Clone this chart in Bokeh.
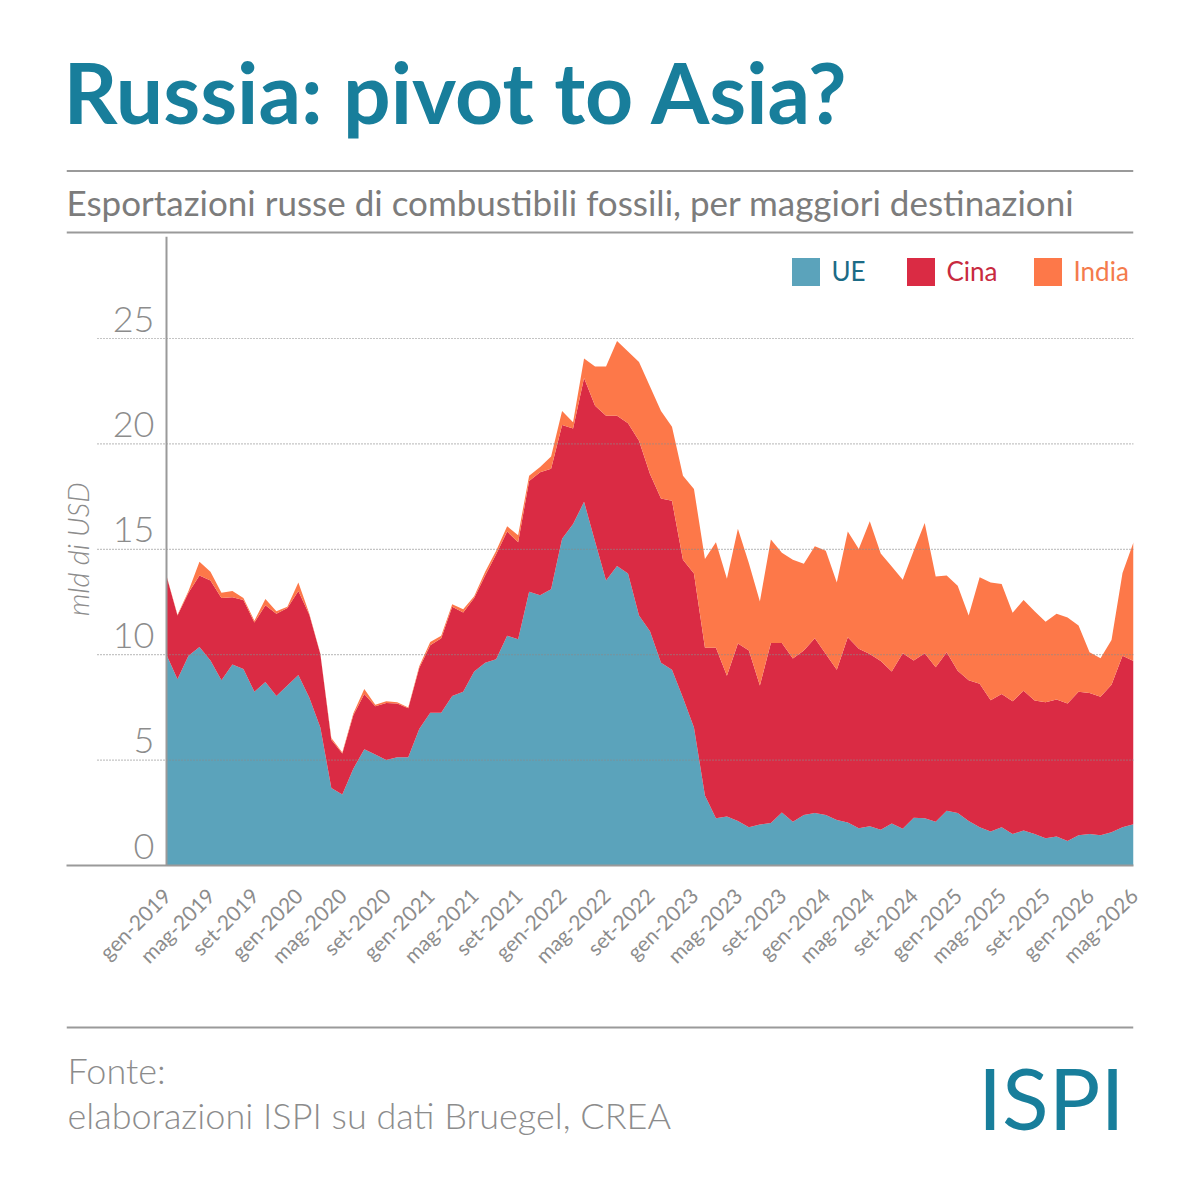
from math import pi
from bokeh.plotting import figure
from bokeh.models import ColumnDataSource, Range1d, FixedTicker, Span, Legend, LegendItem
from bokeh.layouts import column
from bokeh.core.properties import value
from bokeh.embed import file_html
from bokeh.resources import INLINE

# ---------------- data ----------------
x_tick_labels = ["gen-2019", "mag-2019", "set-2019", "gen-2020", "mag-2020", "set-2020",
                 "gen-2021", "mag-2021", "set-2021", "gen-2022", "mag-2022", "set-2022",
                 "gen-2023", "mag-2023", "set-2023", "gen-2024", "mag-2024", "set-2024",
                 "gen-2025", "mag-2025", "set-2025", "gen-2026", "mag-2026"]
series_names = ["UE", "Cina", "India"]

ue = [10.0, 8.84, 9.95, 10.36, 9.73, 8.79, 9.54, 9.32, 8.24, 8.71, 8.04, 8.54, 9.04, 7.96,
      6.55, 3.68, 3.37, 4.59, 5.52, 5.27, 5.01, 5.14, 5.14, 6.47, 7.25, 7.25, 8.04, 8.24,
      9.2, 9.62, 9.78, 10.9, 10.73, 12.99, 12.82, 13.1, 15.5, 16.2, 17.25, 15.37, 13.52,
      14.21, 13.85, 11.86, 11.11, 9.62, 9.29, 7.96, 6.55, 3.32, 2.24, 2.32, 2.11, 1.82,
      1.94, 2.02, 2.52, 2.07, 2.4, 2.49, 2.4, 2.16, 2.04, 1.77, 1.86, 1.7, 1.99, 1.74,
      2.27, 2.24, 2.07, 2.6, 2.49, 2.11, 1.82, 1.61, 1.82, 1.49, 1.66, 1.49, 1.29, 1.38,
      1.16, 1.44, 1.49, 1.44, 1.58, 1.82, 1.96]
cina = [3.73, 3.02, 2.99, 3.4, 3.79, 3.9, 3.18, 3.28, 3.29, 3.64, 3.9, 3.68, 3.98, 3.93,
        3.48, 2.29, 1.94, 2.54, 2.61, 2.28, 2.7, 2.54, 2.32, 2.9, 3.2, 3.53, 4.23, 3.76,
        3.49, 4.14, 4.98, 4.94, 4.61, 5.25, 5.84, 5.72, 5.4, 4.53, 5.88, 6.44, 7.82,
        7.13, 7.13, 8.29, 7.46, 7.79, 8.01, 6.55, 7.3, 7.01, 8.09, 6.68, 8.42, 8.38,
        6.6, 8.54, 8.04, 7.75, 7.8, 8.29, 7.63, 7.13, 8.79, 8.51, 8.17, 8.0, 7.21, 8.33,
        7.46, 7.83, 7.33, 7.52, 6.75, 6.68, 6.8, 6.23, 6.31, 6.3, 6.63, 6.34, 6.45, 6.5,
        6.52, 6.8, 6.69, 6.57, 6.99, 8.13, 7.74]
india = [0.03, 0.03, 0.08, 0.65, 0.41, 0.25, 0.3, 0.09, 0.08, 0.29, 0.12, 0.05, 0.41, 0.05,
         0.03, 0.08, 0.05, 0.08, 0.24, 0.08, 0.08, 0.06, 0.04, 0.08, 0.15, 0.12, 0.12, 0.16,
         0.08, 0.17, 0.17, 0.25, 0.33, 0.25, 0.24, 0.58, 0.66, 0.3, 0.92, 1.86, 2.33,
         3.54, 3.4, 3.73, 4.15, 4.15, 3.51, 3.98, 4.01, 4.21, 5.01, 4.6, 5.44, 4.14,
         3.98, 4.91, 4.28, 4.69, 4.11, 4.36, 4.9, 4.14, 5.01, 4.73, 6.3, 5.1, 4.98, 3.48,
         5.2, 6.18, 4.31, 3.64, 4.03, 3.07, 5.06, 5.59, 5.22, 4.2, 4.31, 4.23, 3.82, 4.06,
         4.09, 3.15, 1.94, 1.82, 2.13, 3.93, 5.64]
y_ticks = [0, 5, 10, 15, 20, 25]

title_text = "Russia: pivot to Asia?"
subtitle_text = "Esportazioni russe di combustibili fossili, per maggiori destinazioni"
y_title = "mld di USD"
source_lines = ["Fonte:", "elaborazioni ISPI su dati Bruegel, CREA"]
logo_text = "ISPI"

# ---------------- styles ----------------
W = 1184
FL, FR = 66, 1133            # frame left / right (page px), shared by all panels
TEAL = "#187e9b"
AREA_COLORS = ["#5ba3bb", "#da2b44", "#fd7849"]
LEGEND_TEXT = ["#1c6b86", "#c82a40", "#f47b4c"]
RULE = "#9a9a9a"
LIGHT = value("Lato Light, Lato")
REG = value("Lato")
BL = 0.4                     # baseline correction (em) for alphabetic text


def bare(fig):
    fig.xgrid.visible = False
    fig.ygrid.visible = False
    fig.outline_line_color = None
    fig.background_fill_color = "white"
    fig.border_fill_color = "white"


def panel(height):
    fig = figure(width=W, height=height, x_range=Range1d(FL, FR), y_range=Range1d(height, 0),
                 toolbar_location=None, output_backend="svg",
                 x_axis_location=None, y_axis_location=None,
                 min_border_left=FL, min_border_right=W - FR,
                 min_border_top=0, min_border_bottom=0)
    bare(fig)
    return fig


# ---------------- header ----------------
HH = 236
hdr = panel(HH)
TS = 84
hdr.text(x=[63], y=[125 - BL * TS], text=[title_text], text_font=REG, text_font_style="bold",
         text_font_size=f"{TS}px", text_color=TEAL, text_baseline="alphabetic")
hdr.segment(x0=[FL, FL], y0=[170.5, 232], x1=[FR, FR], y1=[170.5, 232],
            line_color=RULE, line_width=2)
SS = 35
hdr.text(x=[66], y=[215 - BL * SS], text=[subtitle_text], text_font=REG,
         text_font_size=f"{SS}px", text_color="#7c7c7c", text_baseline="alphabetic")

# ---------------- chart ----------------
CH = 774
FRAME_H = 865 - HH
PX_PER_UNIT = 21.08
PX_PER_MONTH = (FR - 166) / 88
p = figure(width=W, height=CH,
           x_range=Range1d(-(166 - FL) / PX_PER_MONTH, 88),
           y_range=Range1d(0, FRAME_H / PX_PER_UNIT),
           toolbar_location=None, output_backend="svg", y_axis_location=None,
           min_border_left=FL, min_border_right=W - FR, min_border_top=0,
           min_border_bottom=CH - FRAME_H)
bare(p)

months = list(range(len(ue)))
src = ColumnDataSource(dict(x=months, UE=ue, Cina=cina, India=india))
areas = p.varea_stack(series_names, x="x", color=AREA_COLORS, source=src)

# dotted gridlines (drawn above the areas)
grid_vals = y_ticks[1:]
gx0 = -(166 - 97) / PX_PER_MONTH
p.segment(x0=[gx0] * len(grid_vals), y0=grid_vals, x1=[88] * len(grid_vals), y1=grid_vals,
          line_color="#8a8a8a", line_width=1.2, line_dash="1 2")

# vertical axis line
p.add_layout(Span(location=0, dimension="height", line_color=RULE, line_width=2))

# y tick labels above gridlines
YS = 36
p.text(x=[-12 / PX_PER_MONTH] * len(y_ticks), y=y_ticks, text=[str(v) for v in y_ticks],
       text_align="right", text_baseline="alphabetic", y_offset=-5 - BL * YS,
       text_font=LIGHT, text_font_size=f"{YS}px", text_color="#8c8c8c")

# y axis title
p.text(x=[-(166 - 77) / PX_PER_MONTH], y=[15.0], text=[y_title], angle=pi / 2,
       text_align="center", text_baseline="middle", text_font=LIGHT,
       text_font_style="italic", text_font_size="29px", text_color="#8c8c8c")

# x axis
tick_pos = [4 * k for k in range(len(x_tick_labels))]
xa = p.xaxis[0]
xa.ticker = FixedTicker(ticks=tick_pos)
xa.major_label_overrides = {t: lab for t, lab in zip(tick_pos, x_tick_labels)}
xa.major_label_orientation = pi / 4
xa.major_tick_line_color = None
xa.minor_tick_line_color = None
xa.major_tick_out = 0
xa.major_tick_in = 0
xa.axis_line_color = RULE
xa.axis_line_width = 2
xa.major_label_text_font = "Lato"
xa.major_label_text_font_size = "21px"
xa.major_label_text_color = "#8c8c8c"
xa.major_label_standoff = 26

# legend (one per item so each label has its own colour)
legend_x = [721.5, 836.5, 963.5]
for name, r, col, lx in zip(series_names, areas, LEGEND_TEXT, legend_x):
    leg = Legend(items=[LegendItem(label=name, renderers=[r])], location=(lx, 576.5),
                 orientation="horizontal", glyph_width=35, glyph_height=35,
                 label_standoff=9, padding=0, margin=0, spacing=0,
                 border_line_color=None, background_fill_alpha=0,
                 label_text_font="Lato", label_text_font_size="26px",
                 label_text_color=col)
    p.add_layout(leg)

# ---------------- footer ----------------
FH = W - HH - CH
ftr = panel(FH)
F0 = HH + CH
ftr.segment(x0=[FL], y0=[1027 - F0], x1=[FR], y1=[1027 - F0], line_color=RULE, line_width=2)
FS = 36
ftr.text(x=[67, 67], y=[1084 - F0 - BL * FS, 1129 - F0 - BL * FS], text=source_lines,
         text_font=LIGHT, text_font_size=f"{FS}px", text_color="#8c8c8c",
         text_baseline="alphabetic")
LS = 86
ftr.text(x=[1124], y=[1130 - F0 - BL * LS], text=[logo_text], text_font=REG,
         text_font_size=f"{LS}px", text_color=TEAL, text_align="right",
         text_baseline="alphabetic")

layout = column(hdr, p, ftr, spacing=0)
open("out.html", "w").write(file_html(layout, INLINE))
